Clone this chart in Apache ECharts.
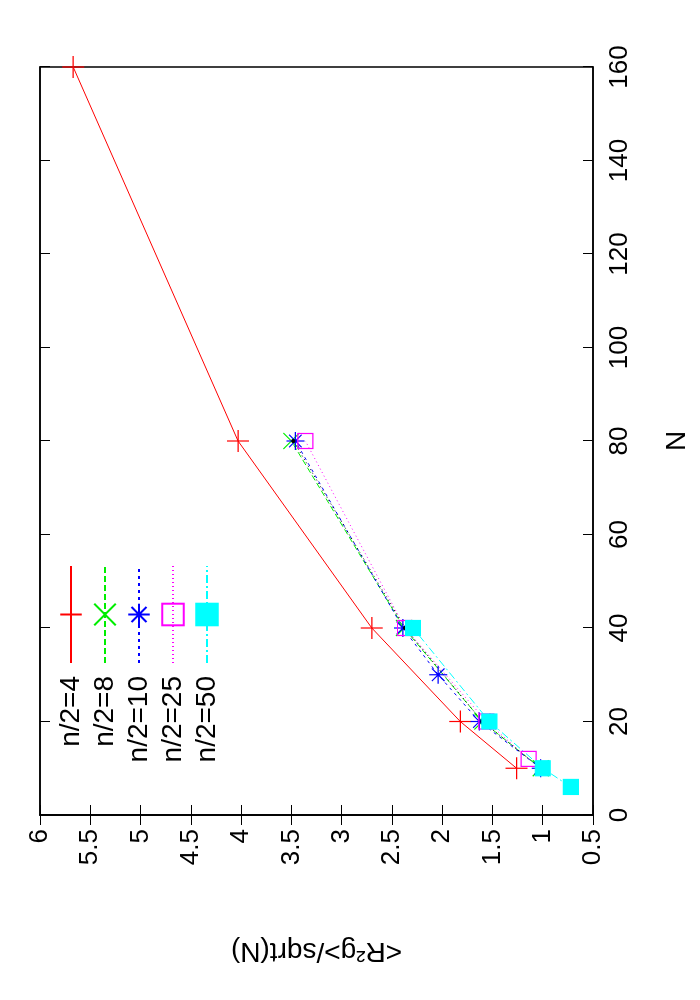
<!DOCTYPE html>
<html><head><meta charset="utf-8">
<script src="https://cdn.jsdelivr.net/npm/echarts@6/dist/echarts.min.js"></script>
<style>
html,body{margin:0;padding:0;background:#fff;overflow:hidden;}
#wrap{position:absolute;left:0;top:0;width:700px;height:1000px;}
#c{position:absolute;left:0;top:0;width:1000px;height:700px;transform-origin:0 0;transform:translateY(1000px) rotate(-90deg);}
</style></head>
<body><div id="wrap"><div id="c"></div></div>
<script>
const yTicks = ['0.5','1','1.5','2','2.5','3','3.5','4','4.5','5','5.5','6'];
const n4N = [10,20,40,80,160];      const n4V = [1.26,1.82,2.70,4.03,5.67];
const n8N = [10,20,40,80];          const n8V = [1.02,1.60,2.38,3.50];
const n10N = [10,20,30,40,80];      const n10V = [1.02,1.63,2.04,2.39,3.46];
const n25N = [12,20,40,80];         const n25V = [1.14,1.56,2.37,3.36];
const n50N = [10,20,40,80];         const n50V = [1.02,1.60,2.37,3.48];
const n50bN = [6,10,20,40];         const n50bV = [0.72,1.00,1.53,2.29];
const names = ['n/2=4','n/2=8','n/2=10','n/2=25','n/2=50','n/2=50 '];

function pts(xs, ys){ return xs.map((x,i)=>[x,ys[i]]); }
const plus = 'path://M0,5L10,5M5,0L5,10';
const cross = 'path://M0,0L10,10M10,0L0,10';
const star = 'path://M0,5L10,5M5,0L5,10M1.5,1.5L8.5,8.5M8.5,1.5L1.5,8.5';
function ser(name, data, color, type, symbol, size, filled){
  return {name, type:'line', data, symbol, symbolSize:size,
    lineStyle:{color, width:1, type},
    itemStyle:{color: filled?color:'rgba(0,0,0,0)', borderColor:color, borderWidth:1.2},
    emphasis:{disabled:true}};
}
const chart = echarts.init(document.getElementById('c'), null, {renderer:'canvas'});
const axisCommon = {axisLine:{lineStyle:{color:'#000',width:1.5}}, splitLine:{show:false}};
chart.setOption({
  animation:false,
  textStyle:{fontFamily:'Liberation Sans, Arial, sans-serif'},
  grid:{left:185,right:67,top:40,bottom:107,show:true,borderColor:'#000',borderWidth:1.5},
  legend:{
    right:560, top:52, orient:'vertical', align:'right', itemGap:6, itemWidth:97, itemHeight:27,
    data:[names[0],names[1],names[2],names[3],names[5]],
    formatter: n => n.trim(),
    textStyle:{fontSize:28,color:'#000',padding:[0,8,0,0]}
  },
  xAxis:[
    Object.assign({type:'value',min:0,max:160,interval:20,name:'N',nameLocation:'middle',nameGap:70,
      nameTextStyle:{fontSize:28,color:'#000'},
      axisTick:{inside:true,length:10,lineStyle:{color:'#000'}},
      axisLabel:{fontSize:26,color:'#000',margin:14}},axisCommon),
    Object.assign({type:'value',min:0,max:160,interval:20,position:'top',
      axisTick:{inside:true,length:10,lineStyle:{color:'#000'}},axisLabel:{show:false}},axisCommon)
  ],
  yAxis:[
    Object.assign({type:'value',min:0.5,max:6,interval:0.5,name:'<R²g>/sqrt(N)',nameLocation:'middle',nameGap:122,
      nameTextStyle:{fontSize:28,color:'#000'},
      axisTick:{inside:true,length:10,lineStyle:{color:'#000'}},
      axisLabel:{fontSize:26,color:'#000',margin:14,formatter:v=>String(+v.toFixed(1))}},axisCommon),
    Object.assign({type:'value',min:0.5,max:6,interval:0.5,position:'right',
      axisTick:{inside:true,length:10,lineStyle:{color:'#000'}},axisLabel:{show:false}},axisCommon)
  ],
  series:[
    ser(names[0], pts(n4N,n4V), '#ff0000', 'solid', plus, 22, false),
    ser(names[1], pts(n8N,n8V), '#00ee00', [6,3], cross, 16, false),
    ser(names[2], pts(n10N,n10V), '#0000ff', [3,4], star, 18, false),
    ser(names[3], pts(n25N,n25V), '#ff00ff', [1,3], 'rect', 15, false),
    ser(names[4], pts(n50N,n50V), '#000000', [1,3], 'circle', 3, true),
    ser(names[5], pts(n50bN,n50bV), '#00ffff', [8,3,2,3], 'rect', 15, true)
  ]
});
</script></body></html>
